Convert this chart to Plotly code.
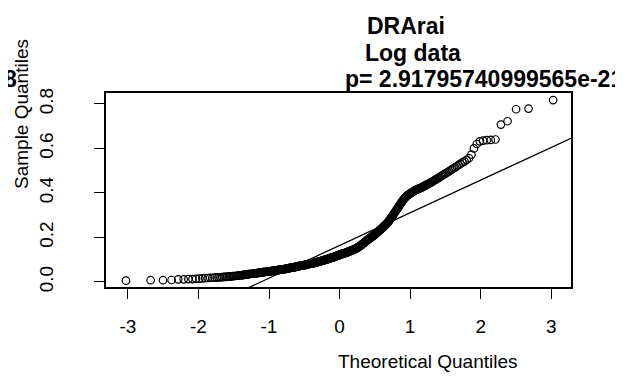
import numpy as np
import plotly.graph_objects as go
from statistics import NormalDist

# Sorted sample values (Log data, DRArai)
sample = [
    0.006, 0.008, 0.008, 0.009, 0.012, 0.012, 0.013, 0.013, 0.014, 0.015,
    0.016, 0.017, 0.018, 0.019,
    0.019, 0.020, 0.020, 0.021, 0.021, 0.022, 0.023, 0.023, 0.024,
    0.024, 0.025, 0.025, 0.026, 0.027, 0.027, 0.028, 0.029,
    0.029, 0.030, 0.031, 0.031, 0.032, 0.033, 0.033, 0.034,
    0.035, 0.035, 0.036, 0.037, 0.037, 0.038, 0.038, 0.039,
    0.039, 0.040, 0.040, 0.041, 0.041, 0.042, 0.042, 0.043, 0.043, 0.044,
    0.044, 0.045, 0.045, 0.046, 0.046, 0.047, 0.047, 0.048,
    0.048, 0.049, 0.049, 0.049, 0.050, 0.050, 0.051, 0.051, 0.051, 0.052, 0.052, 0.053, 0.053,
    0.054, 0.054, 0.055, 0.055, 0.055, 0.056, 0.056, 0.057,
    0.057, 0.058, 0.058, 0.059, 0.059, 0.060, 0.060, 0.061,
    0.061, 0.062, 0.062, 0.063, 0.063, 0.064, 0.064, 0.065,
    0.065, 0.066, 0.066, 0.067, 0.067, 0.068, 0.068, 0.069, 0.069, 0.070, 0.070, 0.071,
    0.071, 0.072, 0.072, 0.073, 0.073, 0.073, 0.074, 0.074, 0.075, 0.075, 0.076,
    0.076, 0.077, 0.077, 0.078, 0.078, 0.079, 0.079, 0.080, 0.080, 0.081, 0.081, 0.082,
    0.082, 0.083, 0.083, 0.084, 0.084, 0.085, 0.085, 0.085, 0.086, 0.086, 0.087, 0.087, 0.088,
    0.088, 0.089, 0.089, 0.090, 0.091, 0.091, 0.092, 0.092, 0.093, 0.093, 0.094,
    0.095, 0.095, 0.096, 0.096, 0.097, 0.098, 0.098, 0.099, 0.099, 0.100,
    0.101, 0.101, 0.102, 0.103, 0.103, 0.104, 0.105, 0.105, 0.106, 0.107,
    0.107, 0.108, 0.109, 0.109, 0.110, 0.110, 0.111, 0.111, 0.112,
    0.113, 0.113, 0.114, 0.115, 0.116, 0.117, 0.117, 0.118, 0.119, 0.120, 0.120, 0.121, 0.122,
    0.123, 0.123, 0.124, 0.125, 0.125, 0.126, 0.127, 0.127, 0.128,
    0.129, 0.129, 0.130, 0.131, 0.131, 0.132, 0.132, 0.133,
    0.134, 0.135, 0.136, 0.136, 0.137, 0.138, 0.139, 0.140,
    0.140, 0.141, 0.142, 0.143, 0.143, 0.144, 0.145,
    0.146, 0.147, 0.148, 0.149, 0.150, 0.151, 0.152, 0.154,
    0.155, 0.156, 0.157, 0.158, 0.160, 0.161, 0.163,
    0.164, 0.166, 0.168, 0.169, 0.171, 0.173, 0.174, 0.176,
    0.178, 0.179, 0.181, 0.183, 0.185, 0.186, 0.188, 0.190,
    0.191, 0.193, 0.194, 0.196, 0.198, 0.199, 0.201, 0.203,
    0.204, 0.206, 0.207, 0.209, 0.211, 0.212, 0.214,
    0.216, 0.218, 0.220, 0.222, 0.224, 0.226, 0.228,
    0.230, 0.232, 0.234, 0.236, 0.238, 0.240,
    0.242, 0.245, 0.247, 0.249, 0.252, 0.254, 0.256, 0.258, 0.261, 0.263,
    0.266, 0.269, 0.273, 0.276, 0.280, 0.283, 0.287, 0.290,
    0.294, 0.298, 0.302, 0.306, 0.310, 0.314, 0.318, 0.322,
    0.326, 0.330, 0.334, 0.338, 0.343, 0.347,
    0.351, 0.355, 0.359, 0.364, 0.368,
    0.372, 0.375, 0.378, 0.382, 0.385,
    0.388, 0.390, 0.392, 0.395, 0.397,
    0.399, 0.401, 0.403, 0.405, 0.407, 0.410, 0.412,
    0.414, 0.415, 0.417, 0.418, 0.420, 0.421, 0.423, 0.425,
    0.427, 0.429, 0.431, 0.433, 0.436, 0.438, 0.440, 0.442, 0.445, 0.447,
    0.450, 0.453, 0.456, 0.459, 0.462, 0.465, 0.468,
    0.471, 0.475, 0.479, 0.482, 0.486, 0.489, 0.493,
    0.497, 0.502, 0.506, 0.511, 0.515,
    0.520, 0.526, 0.531, 0.537, 0.542,
    0.549, 0.556, 0.572,
    0.600, 0.620, 0.632, 0.635, 0.637, 0.638, 0.640,
    0.707, 0.722, 0.776, 0.779, 0.817,
]

x_ticks = [-3, -2, -1, 0, 1, 2, 3]
x_tick_labels = ["-3", "-2", "-1", "0", "1", "2", "3"]
y_ticks = [0.0, 0.2, 0.4, 0.6, 0.8]
y_tick_labels = ["0.0", "0.2", "0.4", "0.6", "0.8"]

title_name = "DRArai"
title_sub = "Log data"
title_p = "p= 2.91795740999565e-21"
neighbour_tail = "8"   # last character of the neighbouring panel's title, cut by the edge
x_title = "Theoretical Quantiles"
y_title = "Sample Quantiles"

# qqnorm theoretical quantiles (ppoints)
n = len(sample)
a = 0.5 if n > 10 else 3 / 8
nd = NormalDist()
theo = [nd.inv_cdf((i - a) / (n + 1 - 2 * a)) for i in range(1, n + 1)]

# qqline through the quartiles
yq = np.percentile(sample, [25, 75])
xq = np.array([nd.inv_cdf(0.25), nd.inv_cdf(0.75)])
slope = (yq[1] - yq[0]) / (xq[1] - xq[0])
intercept = yq[0] - slope * xq[0]

x_range = [-3.31, 3.28]
y_range = [-0.0225, 0.849]

FONT = "Liberation Sans, Arial, sans-serif"

fig = go.Figure()
fig.add_trace(go.Scatter(
    x=theo, y=sample, mode="markers",
    marker=dict(symbol="circle-open", size=7.5, color="black", line=dict(width=1.2, color="black")),
    showlegend=False, cliponaxis=False,
))
fig.add_trace(go.Scatter(
    x=x_range, y=[intercept + slope * v for v in x_range], mode="lines",
    line=dict(color="black", width=1.3), showlegend=False,
))

fig.update_layout(
    width=623, height=378,
    margin=dict(l=98, r=60, t=85, b=99, autoexpand=False),
    paper_bgcolor="white", plot_bgcolor="white",
    font=dict(family=FONT, size=19, color="black"),
    xaxis=dict(
        range=x_range, tickmode="array", tickvals=x_ticks, ticktext=x_tick_labels,
        ticks="outside", ticklen=10, tickwidth=1.2, tickcolor="black",
        showline=True, linecolor="black", linewidth=1.5, mirror=True,
        showgrid=False, zeroline=False, ticklabelstandoff=11, automargin=False,
        tickfont=dict(size=19),
    ),
    yaxis=dict(
        range=y_range, tickmode="array", tickvals=y_ticks, ticktext=y_tick_labels,
        ticks="outside", ticklen=10, tickwidth=1.2, tickcolor="black",
        showline=True, linecolor="black", linewidth=1.5, mirror=True,
        showgrid=False, zeroline=False, tickangle=-90, ticklabelstandoff=34,
        automargin=False, tickfont=dict(size=19),
    ),
)

def px_x(px):
    return (px - 98) / 465

def px_y(py):
    return (279 - py) / 194

annos = [
    dict(text="<b>" + title_name + "</b>", x=px_x(357), y=px_y(18), xanchor="left", yanchor="middle",
         font=dict(size=23, family=FONT)),
    dict(text="<b>" + title_sub + "</b>", x=px_x(355), y=px_y(45), xanchor="left", yanchor="middle",
         font=dict(size=23, family=FONT)),
    dict(text="<b>" + title_p + "</b>", x=px_x(335), y=px_y(71), xanchor="left", yanchor="middle",
         font=dict(size=23, family=FONT)),
    dict(text="<b>" + neighbour_tail + "</b>", x=px_x(11), y=px_y(71), xanchor="right", yanchor="middle",
         font=dict(size=23, family=FONT)),
    dict(text=x_title, x=px_x(420), y=px_y(353), xanchor="center", yanchor="middle",
         font=dict(size=19, family=FONT)),
    dict(text=y_title, x=px_x(14), y=px_y(106), xanchor="center", yanchor="middle",
         textangle=-90, font=dict(size=19, family=FONT)),
]
for an in annos:
    an.update(xref="paper", yref="paper", showarrow=False)
fig.update_layout(annotations=annos)

fig.write_html("out.html")
